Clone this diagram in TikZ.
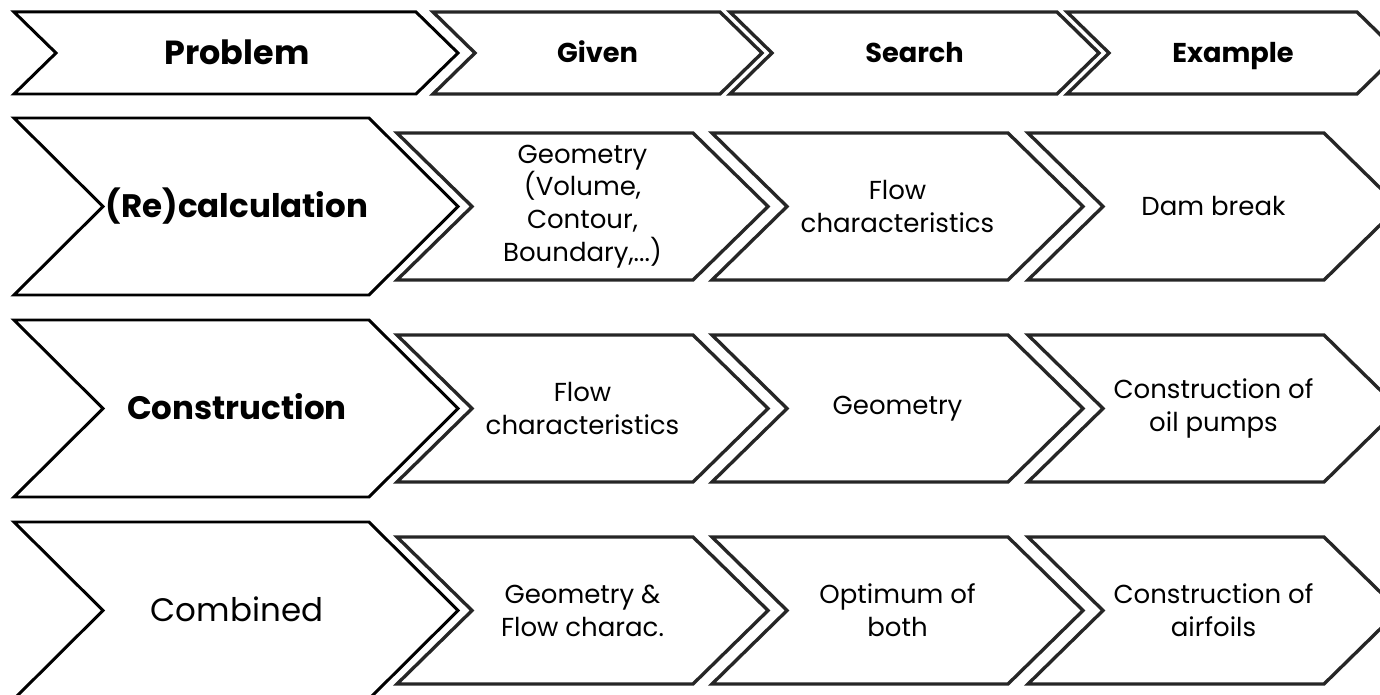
\documentclass[tikz,border=0pt]{standalone}
\usepackage{fontspec}
\setmainfont{Poppins}

\begin{document}
\begin{tikzpicture}[x=0.02cm, y=-0.02cm]
        \tikzstyle{lead} = [draw=black, line width=1.7pt]
        \tikzstyle{stage} = [draw=black!85, line width=1.9pt]
        \tikzstyle{headtxt} = [font=\bfseries\fontsize{15.5}{18}\selectfont, text height=10.9pt, text depth=0pt]
        \tikzstyle{celltxt} = [align=center, font=\fontsize{14.8}{18.7}\selectfont]
        \tikzstyle{rowtxt} = [font=\fontsize{18.5}{22}\selectfont, text height=13pt, text depth=0pt]

        \useasboundingbox (0,0) rectangle (1380,695);

        % header row
        \draw[lead] (14,12) -- (416,12) -- (458,53) -- (416,94) -- (14,94) -- (56,53) -- cycle;
        \node[headtxt, font=\bfseries\fontsize{19}{22}\selectfont, text height=13.3pt] (problem) at (237,53) {Problem};
        \foreach \xl/\xr/\id/\txt in {433/720/given/Given, 730/1057/search/Search, 1067/1357/example/Example} {
          \draw[stage] (\xl,12) -- (\xr,12) -- (\xr+42,53) -- (\xr,94) -- (\xl,94) -- (\xl+42,53) -- cycle;
          \node[headtxt] (\id) at ({(\xl+\xr+42)/2},53) {\txt};
        }

        % problem rows
        \foreach \lbl/\wt/\ga/\sb/\ex [count=\i] in {
            {(Re)calculation}/\bfseries/{Geometry\\(Volume,\\Contour,\\Boundary,...)}/{Flow\\characteristics}/{Dam break},
            {Construction}/\bfseries/{Flow\\characteristics}/{Geometry}/{Construction of\\oil pumps},
            {Combined}/\mdseries/{Geometry \&\\Flow charac.}/{Optimum of\\both}/{Construction of\\airfoils}} {
          \pgfmathsetmacro\ym{206.5+202*(\i-1)}
          \draw[lead] (14,\ym-88.5) -- (369,\ym-88.5) -- (458,\ym) -- (369,\ym+88.5) -- (14,\ym+88.5) -- (103,\ym) -- cycle;
          \node[rowtxt] (row\i) at (237,\ym) {\wt\lbl};
          \foreach \xl/\txt [count=\j] in {397/\ga, 712/\sb, 1028/\ex} {
            \draw[stage] (\xl,\ym-73.5) -- (\xl+296,\ym-73.5) -- (\xl+371,\ym) -- (\xl+296,\ym+73.5) -- (\xl,\ym+73.5) -- (\xl+75,\ym) -- cycle;
            \node[celltxt] (cell\i\j) at (\xl+185.5,\ym) {\txt};
          }
        }
      \end{tikzpicture}
\end{document}
